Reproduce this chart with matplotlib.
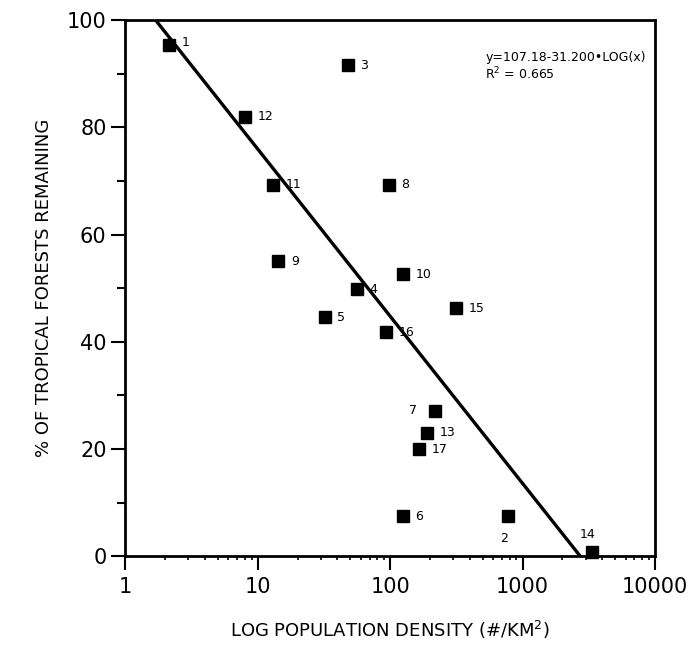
import numpy as np
import matplotlib
matplotlib.use("Agg")
import matplotlib.pyplot as plt
from matplotlib.ticker import LogLocator, NullFormatter, FixedLocator

# point ids and values
ids = ["1", "2", "3", "4", "5", "6", "7", "8", "9", "10",
       "11", "12", "13", "14", "15", "16", "17"]
density = [2.15, 777, 48, 56, 32, 125, 219, 98, 14.3, 125,
           13.1, 8.0, 190, 3350, 315, 93, 166]
forest = [95.4, 7.4, 91.6, 49.8, 44.6, 7.4, 27.1, 69.3, 55.0, 52.6,
          69.3, 82.0, 23.0, 0.7, 46.3, 41.8, 19.9]

# regression y = a + b*log10(x)
intercept = 107.18
slope = -31.200
r2 = 0.665

x_ticks = [1, 10, 100, 1000, 10000]
x_ticklabels = ["1", "10", "100", "1000", "10000"]
y_ticks = [0, 20, 40, 60, 80, 100]

plt.rcParams["font.family"] = ["DejaVu Sans"]

fig = plt.figure(figsize=(6.96, 6.55), dpi=100)
ax = fig.add_axes([0.18, 0.151, 0.761, 0.818])

ax.set_xscale("log")
ax.set_xlim(1, 10000)
ax.set_ylim(0, 100)

# fitted line
xs = np.logspace(0, 4, 200)
ax.plot(xs, intercept + slope * np.log10(xs), color="black", lw=2.4,
        clip_on=True, zorder=2)

ax.plot(density, forest, "s", color="black", ms=9, zorder=3, clip_on=False)

# label offsets (points)
offsets = {"7": (-13, 0), "2": (-3, -16), "14": (-3, 13), "1": (9, 2)}
for name, xv, yv in zip(ids, density, forest):
    dx, dy = offsets.get(name, (9, 0))
    ha = "right" if name == "7" else ("center" if name in ("2", "14") else "left")
    ax.annotate(name, (xv, yv), xytext=(dx, dy), textcoords="offset points",
                fontsize=9, ha=ha, va="center")

ax.text(0.68, 0.885, f"y=107.18-31.200\u2022LOG(x)\nR$^2$ = {r2}",
        transform=ax.transAxes, fontsize=9, va="bottom", ha="left",
        linespacing=1.1)

ax.xaxis.set_major_locator(FixedLocator(x_ticks))
ax.set_xticklabels(x_ticklabels)
ax.xaxis.set_minor_locator(LogLocator(base=10, subs=np.arange(2, 10)))
ax.xaxis.set_minor_formatter(NullFormatter())
ax.set_yticks(y_ticks)
ax.yaxis.set_minor_locator(FixedLocator([10, 30, 50, 70, 90]))

ax.tick_params(axis="both", which="major", direction="out", length=10,
               width=1.5, labelsize=15, color="black")
ax.tick_params(axis="x", which="minor", direction="out", length=3, width=1.2)
ax.tick_params(axis="y", which="minor", direction="out", length=6, width=1.5)
ax.tick_params(axis="x", pad=5)

for s in ax.spines.values():
    s.set_linewidth(2)

ax.set_xlabel("LOG POPULATION DENSITY (#/KM$^2$)", fontsize=13, labelpad=16)
ax.set_ylabel("% OF TROPICAL FORESTS REMAINING", fontsize=13, labelpad=10)

fig.savefig("out.png", dpi=100)
